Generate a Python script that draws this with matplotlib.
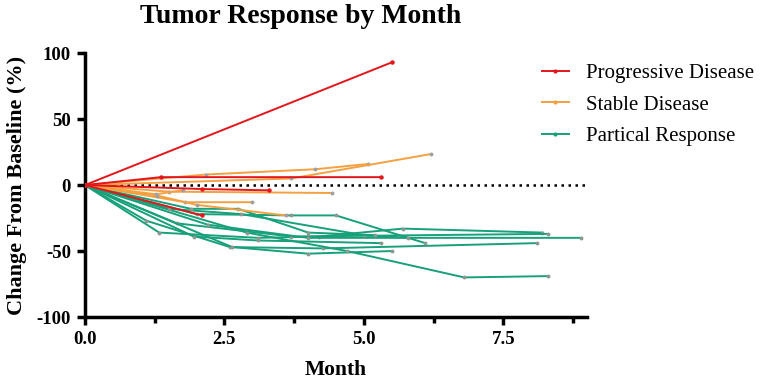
import matplotlib
matplotlib.use("Agg")
import matplotlib.pyplot as plt
from matplotlib.lines import Line2D

# Progressive disease (month, % change)
pd_months = [[0, 5.5], [0, 1.36, 5.3], [0, 2.1, 3.3], [0, 2.1]]
pd_values = [[0, 93], [0, 6, 6], [0, -3, -4], [0, -23]]

# Stable disease
sd_months = [[0, 2.17, 4.13, 5.08], [0, 3.7, 6.2], [0, 1.5, 4.43],
             [0, 1.8, 3.0], [0, 1.3, 2.0, 3.6], [0, 1.27, 1.75]]
sd_values = [[0, 8, 12, 16], [0, 5, 23.5], [0, -5, -6],
             [0, -13, -13], [0, -8, -15, -23], [0, -7, -4]]

# Partial response
pr_months = [[0, 1.33, 3.1, 4.2, 5.7, 8.2], [0, 1.1, 2.6, 4.27, 8.1],
             [0, 2.0, 3.7, 4.5, 6.1], [0, 1.65, 3.7, 8.3], [0, 2.2, 4.0, 8.9],
             [0, 1.95, 3.1, 5.3], [0, 2.64, 4.0, 5.5], [0, 2.9, 4.7, 6.8, 8.3],
             [0, 1.5, 2.8, 5.0, 5.8], [0, 1.9, 2.75, 4.0, 5.2]]
pr_values = [[0, -36, -40, -39, -33, -36], [0, -27, -47, -48, -44],
             [0, -22, -23, -23, -44], [0, -29, -39, -37], [0, -30, -40, -40],
             [0, -39, -42, -44], [0, -47, -52, -50], [0, -36, -50, -70, -69],
             [0, -18, -22, -38, -40], [0, -18, -18, -36, -38]]

groups = ['Progressive Disease', 'Stable Disease', 'Partical Response']
colors = ['#e3161b', '#f5a041', '#17a07a']

plt.rcParams['font.family'] = ['Liberation Serif', 'DejaVu Serif']
plt.rcParams['axes.unicode_minus'] = False

fig = plt.figure(figsize=(7.62, 3.85), dpi=100)
ax = fig.add_axes([0.1115, 0.1766, 0.6588, 0.6854])

# dotted baseline
ax.plot([0, 9], [0, 0], color='black', linestyle=(0, (1, 1.8)), linewidth=1.8, zorder=1)

for months, values in zip(pr_months, pr_values):
    ax.plot(months, values, color=colors[2], linewidth=1.4, marker='o', markersize=1.8,
            markerfacecolor='#8a9a90', markeredgecolor='#8a9a90', zorder=2)
for months, values in zip(sd_months, sd_values):
    ax.plot(months, values, color=colors[1], linewidth=1.4, marker='o', markersize=1.8,
            markerfacecolor='#a0a0a0', markeredgecolor='#a0a0a0', zorder=3)
for months, values in zip(pd_months, pd_values):
    ax.plot(months, values, color=colors[0], linewidth=1.4, marker='o', markersize=2.2,
            markerfacecolor=colors[0], markeredgecolor=colors[0], zorder=4)

ax.set_xlim(0, 9)
ax.set_ylim(-100, 100)
ax.set_xticks([0, 2.5, 5.0, 7.5])
ax.set_xticks([1.25, 3.75, 6.25, 8.75], minor=True)
ax.set_yticks([-100, -50, 0, 50, 100])
ax.set_xticklabels(['0.0', '2.5', '5.0', '7.5'])

for side in ['top', 'right']:
    ax.spines[side].set_visible(False)
for side in ['left', 'bottom']:
    ax.spines[side].set_linewidth(2.5)

ax.tick_params(which='major', direction='out', length=6, width=2.5, labelsize=13.5, pad=4)
ax.tick_params(which='minor', direction='out', length=4, width=2.5)
for lbl in ax.get_xticklabels() + ax.get_yticklabels():
    lbl.set_fontweight('bold')

ax.set_xlabel('Month', fontsize=15.5, fontweight='bold', labelpad=9)
ax.set_ylabel('Change From Baseline (%)', fontsize=16, fontweight='bold', labelpad=7)

fig.text(0.394, 0.958, 'Tumor Response by Month', fontsize=20, fontweight='bold',
         ha='center', va='center')

handles = [Line2D([], [], color=c, linewidth=1.4, marker='o', markersize=2) for c in colors]
fig.legend(handles, groups, loc='upper left', bbox_to_anchor=(0.711, 0.835),
           frameon=False, fontsize=15, handlelength=1.3, labelspacing=0.58,
           handletextpad=0.8, borderpad=0, borderaxespad=0)

fig.savefig('out.png', dpi=100)
